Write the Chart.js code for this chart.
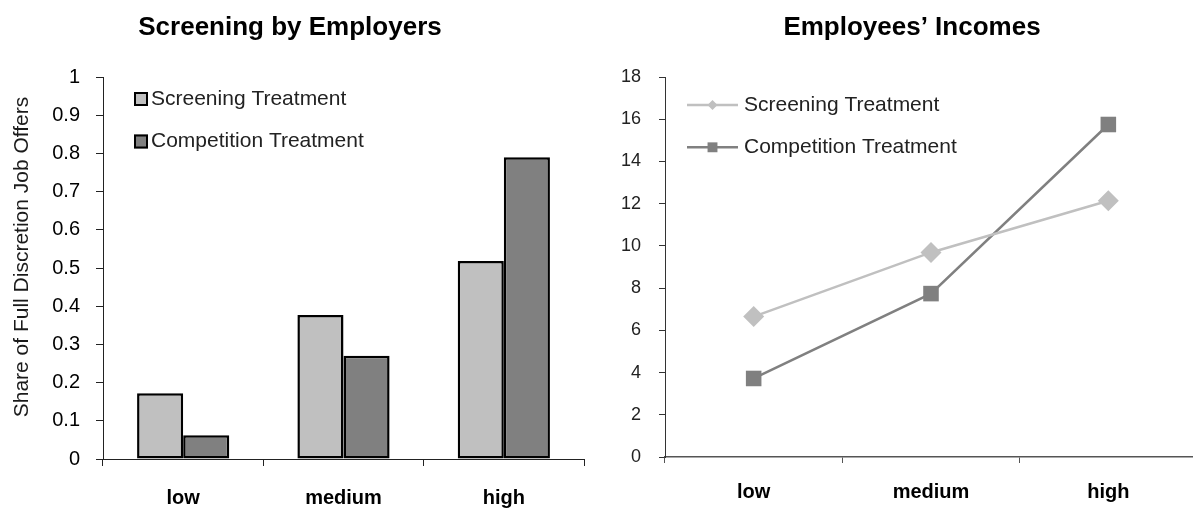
<!DOCTYPE html>
<html>
<head>
<meta charset="utf-8">
<title>Screening by Employers / Employees’ Incomes</title>
<script src="https://cdn.jsdelivr.net/npm/chart.js@4.4.1/dist/chart.umd.min.js"></script>
<style>
  html, body { margin: 0; padding: 0; background: #fff; overflow: hidden; width: 1193px; height: 508px; }
  .panel { position: absolute; top: 0; height: 508px; }
  #sharePanel { left: 0; width: 596px; }
  #incomePanel { left: 596px; width: 612px; }
</style>
</head>
<body>
<div class="panel" id="sharePanel"><canvas id="shareChart"></canvas></div>
<div class="panel" id="incomePanel"><canvas id="incomeChart"></canvas></div>
<script>
// ---- data ----
const categories = ['low', 'medium', 'high'];
const seriesNames = ['Screening Treatment', 'Competition Treatment'];

// share of full-discretion job offers
const screeningShare = [0.172, 0.377, 0.518];
const competitionShare = [0.062, 0.270, 0.790];

// employees' incomes
const screeningIncome = [6.65, 9.69, 12.14];
const competitionIncome = [3.72, 7.74, 15.75];

const shareTicks = [0, 0.1, 0.2, 0.3, 0.4, 0.5, 0.6, 0.7, 0.8, 0.9, 1];
const shareTickLabels = ['0', '0.1', '0.2', '0.3', '0.4', '0.5', '0.6', '0.7', '0.8', '0.9', '1'];
const incomeTicks = [0, 2, 4, 6, 8, 10, 12, 14, 16, 18];
const incomeTickLabels = ['0', '2', '4', '6', '8', '10', '12', '14', '16', '18'];

const leftHeading = 'Screening by Employers';
const rightHeading = 'Employees’ Incomes';
const shareAxisTitle = 'Share of Full Discretion Job Offers';

// ---- styling ----
const FONT = '"Liberation Sans", Arial, Helvetica, sans-serif';
const LIGHT = '#c0c0c0';
const DARK = '#808080';

// heading drawn at a fixed centre above each panel
const panelHeading = {
  id: 'panelHeading',
  afterDraw(chart, args, opts) {
    const ctx = chart.ctx;
    ctx.save();
    ctx.font = `bold ${opts.size}px ${FONT}`;
    ctx.fillStyle = '#000';
    ctx.textAlign = 'center';
    ctx.textBaseline = 'middle';
    ctx.fillText(opts.text, opts.x, opts.y);
    ctx.restore();
  }
};

// rotated axis caption beside the value axis
const sideCaption = {
  id: 'sideCaption',
  afterDraw(chart, args, opts) {
    const ctx = chart.ctx;
    ctx.save();
    ctx.translate(opts.x, opts.y);
    ctx.rotate(-Math.PI / 2);
    ctx.font = `${opts.size}px ${FONT}`;
    ctx.fillStyle = opts.color;
    ctx.textAlign = 'center';
    ctx.textBaseline = 'middle';
    ctx.fillText(opts.text, 0, 0);
    ctx.restore();
  }
};

// legend with outlined square swatches (bar panel)
const boxLegend = {
  id: 'boxLegend',
  afterDraw(chart, args, opts) {
    const ctx = chart.ctx;
    ctx.save();
    ctx.font = `${opts.size}px ${FONT}`;
    ctx.textBaseline = 'middle';
    ctx.textAlign = 'left';
    chart.data.datasets.forEach((ds, i) => {
      const y = opts.y + i * opts.gap;
      const s = opts.box;
      ctx.fillStyle = ds.backgroundColor;
      ctx.fillRect(opts.x, y - s / 2, s, s);
      ctx.lineWidth = 2;
      ctx.strokeStyle = '#000';
      ctx.strokeRect(opts.x + 1, y - s / 2 + 1, s - 2, s - 2);
      ctx.fillStyle = opts.color;
      ctx.fillText(ds.label, opts.x + s + 3, y);
    });
    ctx.restore();
  }
};

// legend with line + marker samples (line panel)
const lineLegend = {
  id: 'lineLegend',
  afterDraw(chart, args, opts) {
    const ctx = chart.ctx;
    ctx.save();
    ctx.font = `${opts.size}px ${FONT}`;
    ctx.textBaseline = 'middle';
    ctx.textAlign = 'left';
    chart.data.datasets.forEach((ds, i) => {
      const y = opts.y + i * opts.gap;
      ctx.strokeStyle = ds.borderColor;
      ctx.lineWidth = ds.borderWidth;
      ctx.beginPath();
      ctx.moveTo(opts.x, y);
      ctx.lineTo(opts.x + opts.lineLength, y);
      ctx.stroke();
      ctx.fillStyle = ds.pointBackgroundColor;
      ctx.strokeStyle = ds.pointBackgroundColor;
      Chart.helpers.drawPoint(ctx, {
        pointStyle: ds.pointStyle,
        radius: opts.markerRadius[i],
        rotation: 0,
        borderWidth: 0
      }, opts.x + opts.lineLength / 2, y);
      ctx.fillStyle = opts.color;
      ctx.fillText(ds.label, opts.x + opts.lineLength + 6, y);
    });
    ctx.restore();
  }
};

// ---- left panel: grouped bars ----
new Chart(document.getElementById('shareChart'), {
  type: 'bar',
  data: {
    labels: categories,
    datasets: [
      {
        label: seriesNames[0],
        data: screeningShare,
        backgroundColor: LIGHT,
        borderColor: '#000',
        borderWidth: 2.5,
        borderSkipped: false,
        categoryPercentage: 0.575,
        barPercentage: 1
      },
      {
        label: seriesNames[1],
        data: competitionShare,
        backgroundColor: DARK,
        borderColor: '#000',
        borderWidth: 2.5,
        borderSkipped: false,
        categoryPercentage: 0.575,
        barPercentage: 1
      }
    ]
  },
  options: {
    responsive: true,
    maintainAspectRatio: false,
    animation: false,
    events: [],
    layout: { padding: { top: 77, right: 12, left: 0, bottom: 0 } },
    plugins: {
      legend: { display: false },
      tooltip: { enabled: false },
      panelHeading: { text: leftHeading, x: 290, y: 28, size: 26 },
      sideCaption: { text: shareAxisTitle, x: 22, y: 257, size: 21, color: '#1a1a1a' },
      boxLegend: { x: 134, y: 99, gap: 42.5, box: 14, size: 21, color: '#222' }
    },
    scales: {
      x: {
        afterFit: s => { s.height = 49; },
        border: { display: true, color: '#222', width: 1 },
        grid: { display: true, drawOnChartArea: false, offset: true, tickLength: 7, color: '#222' },
        ticks: { color: '#000', padding: 20, font: { family: FONT, size: 20, weight: 'bold' } }
      },
      y: {
        min: 0,
        max: 1,
        afterFit: s => { s.width = 103; },
        afterBuildTicks: s => { s.ticks = shareTicks.map(v => ({ value: v })); },
        border: { display: true, color: '#222', width: 1 },
        grid: { display: true, drawOnChartArea: false, tickLength: 7, color: '#222' },
        ticks: {
          color: '#000',
          padding: 16,
          font: { family: FONT, size: 20 },
          callback: (v, i) => shareTickLabels[i]
        }
      }
    }
  },
  plugins: [panelHeading, sideCaption, boxLegend]
});

// ---- right panel: lines with markers ----
new Chart(document.getElementById('incomeChart'), {
  type: 'line',
  data: {
    labels: categories,
    datasets: [
      {
        label: seriesNames[0],
        data: screeningIncome,
        borderColor: LIGHT,
        borderWidth: 2.5,
        pointStyle: 'rectRot',
        pointRadius: 10.5,
        pointBackgroundColor: LIGHT,
        pointBorderColor: LIGHT,
        pointBorderWidth: 0,
        tension: 0
      },
      {
        label: seriesNames[1],
        data: competitionIncome,
        borderColor: DARK,
        borderWidth: 2.5,
        pointStyle: 'rect',
        pointRadius: 11,
        pointBackgroundColor: DARK,
        pointBorderColor: DARK,
        pointBorderWidth: 0,
        tension: 0
      }
    ]
  },
  options: {
    responsive: true,
    maintainAspectRatio: false,
    animation: false,
    events: [],
    layout: { padding: { top: 77, right: 3, left: 0, bottom: 0 } },
    plugins: {
      legend: { display: false },
      tooltip: { enabled: false },
      panelHeading: { text: rightHeading, x: 316, y: 28, size: 26 },
      lineLegend: { x: 91, y: 105, gap: 42.3, lineLength: 51, markerRadius: [5, 7], size: 21, color: '#222' }
    },
    scales: {
      x: {
        offset: true,
        afterFit: s => { s.height = 51; },
        border: { display: true, color: '#555', width: 1.5 },
        grid: { display: true, drawOnChartArea: false, offset: true, tickLength: 6, color: '#555' },
        ticks: { color: '#000', padding: 17, font: { family: FONT, size: 20, weight: 'bold' } }
      },
      y: {
        min: 0,
        max: 18,
        afterFit: s => { s.width = 69; },
        afterBuildTicks: s => { s.ticks = incomeTicks.map(v => ({ value: v })); },
        border: { display: true, color: '#333', width: 1 },
        grid: { display: true, drawOnChartArea: false, tickLength: 6, color: '#333' },
        ticks: {
          color: '#222',
          padding: 18,
          font: { family: FONT, size: 18 },
          callback: (v, i) => incomeTickLabels[i]
        }
      }
    }
  },
  plugins: [panelHeading, lineLegend]
});
</script>
</body>
</html>
